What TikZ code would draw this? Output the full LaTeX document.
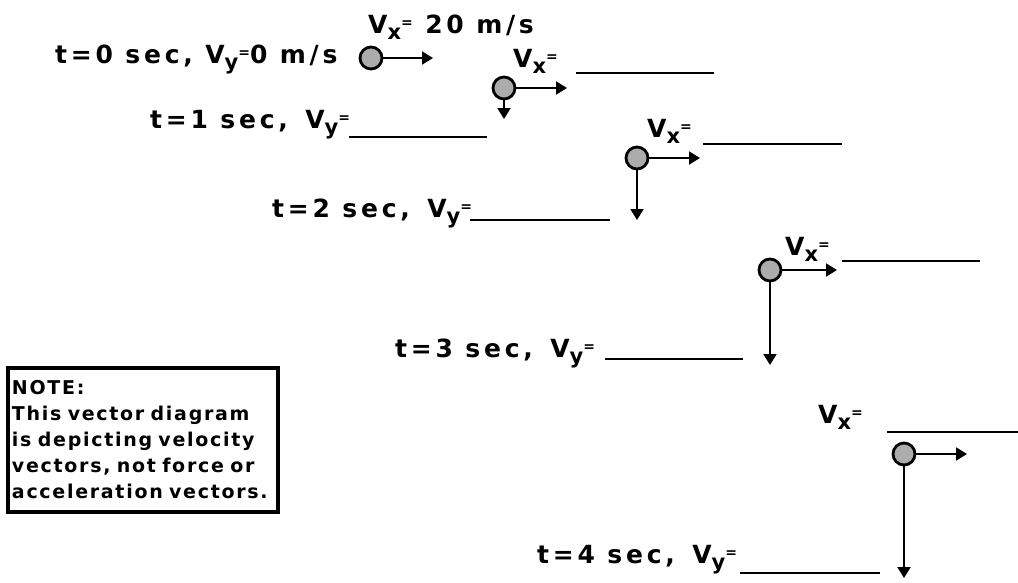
\documentclass[tikz,border=0pt]{standalone}
\usepackage{fontspec}
\setmainfont{DejaVu Sans}[LetterSpace=15]
\newfontfamily\notefont{DejaVu Sans}[LetterSpace=9, WordSpace=1.8]
\usetikzlibrary{arrows.meta}
\newcommand\Vsub[1]{V\raisebox{-6pt}{\fontsize{21}{21}\selectfont #1}\raisebox{6pt}{\fontsize{14}{14}\selectfont =}}
\newcommand\nohyph{\hyphenpenalty=10000 \exhyphenpenalty=10000 \relax}
\begin{document}
\begin{tikzpicture}[x=1pt,y=-1pt,
  lbl/.style={inner sep=0, anchor=base west, font=\bfseries\fontsize{25}{25}\selectfont},
  ball/.style={circle, draw, line width=2.8pt, fill=gray!65, minimum size=22pt, inner sep=0},
  vec/.style={line width=2pt, -{Triangle[length=11pt,width=13pt]}},
  blank/.style={line width=2pt},
  notebox/.style={draw, line width=4pt, anchor=north west, align=left, text width=262pt,
    minimum height=144pt, inner xsep=4pt, inner ysep=4pt,
    font=\notefont\bfseries\fontsize{19}{26}\selectfont}]
\useasboundingbox (0,0) rectangle (1018,582);
% balls
\node[ball] (b0) at (371,58) {};
\node[ball] (b1) at (504,88) {};
\node[ball] (b2) at (637,158) {};
\node[ball] (b3) at (770,270) {};
\node[ball] (b4) at (904,454) {};
% arrow tips
\coordinate (a0x) at (433,58);
\coordinate (a1x) at (567,88);  \coordinate (a1y) at (504,119);
\coordinate (a2x) at (700,158); \coordinate (a2y) at (637,220);
\coordinate (a3x) at (837,270); \coordinate (a3y) at (770,365);
\coordinate (a4x) at (967,454); \coordinate (a4y) at (904,578);
\draw[vec] (b0.east) -- (a0x);
\draw[vec] (b1.east) -- (a1x);
\draw[vec] (b1.south) -- (a1y);
\draw[vec] (b2.east) -- (a2x);
\draw[vec] (b2.south) -- (a2y);
\draw[vec] (b3.east) -- (a3x);
\draw[vec] (b3.south) -- (a3y);
\draw[vec] (b4.east) -- (a4x);
\draw[vec] (b4.south) -- (a4y);
% labels
\node[lbl] (t0) at (55,63) {t=0 sec, \Vsub{y}0 m/s};
\node[lbl] (vx0) at (368,33) {\Vsub{x} 20 m/s};
\node[lbl] (vx1) at (513,67) {\Vsub{x}};
\node[lbl] (t1) at (150,128) {t=1 sec,\hspace{5pt} \Vsub{y}};
\node[lbl] (vx2) at (647,137) {\Vsub{x}};
\node[lbl] (t2) at (272,217) {t=2 sec,\hspace{5pt} \Vsub{y}};
\node[lbl] (vx3) at (785,255) {\Vsub{x}};
\node[lbl] (t3) at (395,357) {t=3 sec,\hspace{5pt} \Vsub{y}};
\node[lbl] (vx4) at (818,423) {\Vsub{x}};
\node[lbl] (t4) at (537,563) {t=4 sec,\hspace{5pt} \Vsub{y}};
% blanks
\draw[blank] (576,73) -- (714,73);
\draw[blank] (349,137) -- (487,137);
\draw[blank] (703,144) -- (842,144);
\draw[blank] (470,220) -- (610,220);
\draw[blank] (842,261) -- (980,261);
\draw[blank] (605,359) -- (743,359);
\draw[blank] (887,432) -- (1018,432);
\draw[blank] (740,573) -- (880,573);
% note
\node[notebox] (note) at (6,366) {\nohyph NOTE:\\This vector diagram\\is depicting velocity\\vectors, not force or\\acceleration vectors.};
\end{tikzpicture}
\end{document}
